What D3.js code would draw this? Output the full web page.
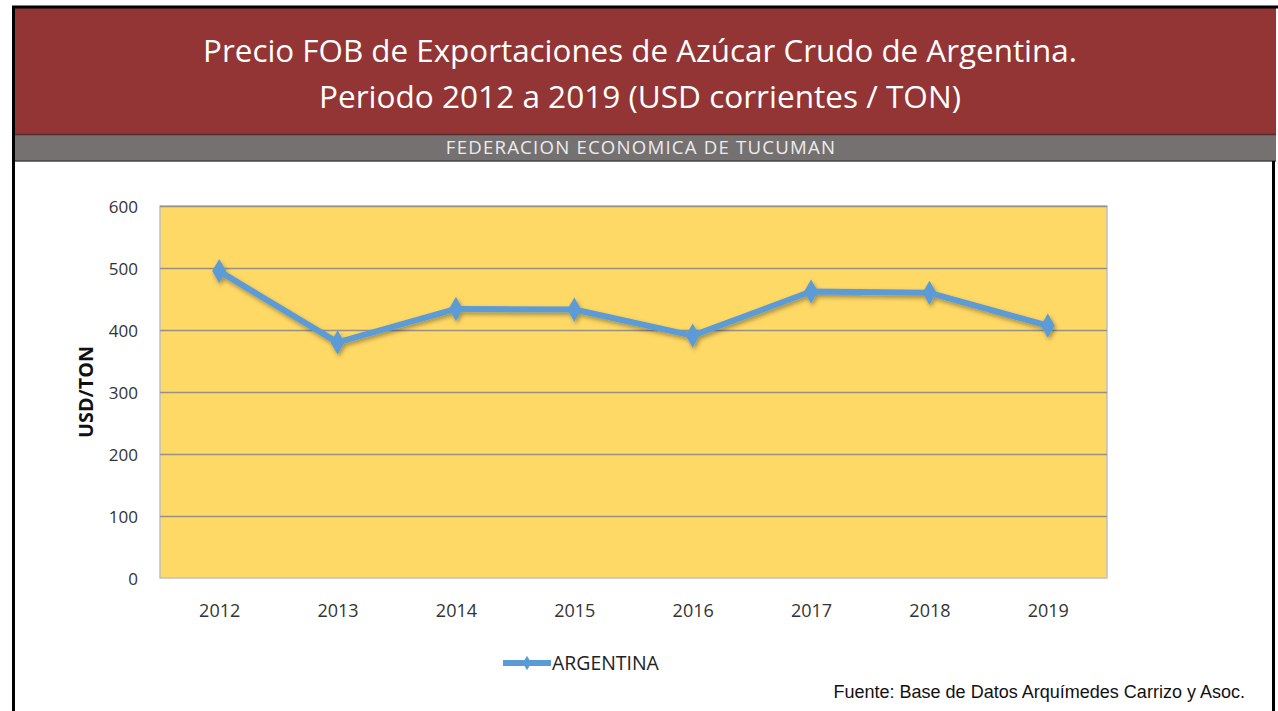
<!DOCTYPE html>
<html><head><meta charset="utf-8">
<script src="https://cdn.jsdelivr.net/npm/d3@7"></script>
<style>html,body{margin:0;padding:0;background:#fff;}svg{display:block;}</style>
</head><body>
<svg id="c" width="1278" height="711"></svg>
<script>
const years = ["2012","2013","2014","2015","2016","2017","2018","2019"];
const argentina = [495, 380, 434, 433, 391, 462, 460, 407];
const yTicks = [0, 100, 200, 300, 400, 500, 600];
const titleLines = ["Precio FOB de Exportaciones de Azúcar Crudo de Argentina.", "Periodo 2012 a 2019 (USD corrientes / TON)"];
const subtitle = "FEDERACION ECONOMICA DE TUCUMAN";
const yLabel = "USD/TON";
const seriesName = "ARGENTINA";
const source = "Fuente:  Base de Datos Arquímedes Carrizo y Asoc.";

const svg = d3.select("#c");
const W = 1278, H = 711;
const plot = {l:160, t:206, r:1107, b:578};

function fit(sel, target){
  const fs = +sel.attr("font-size");
  const w = sel.node().getComputedTextLength();
  if (w > 0) sel.attr("font-size", fs * target / w);
  return sel;
}

// header
svg.append("rect").attr("x",13).attr("y",8).attr("width",1263).attr("height",127).attr("fill","#933535");
svg.append("rect").attr("x",13).attr("y",135).attr("width",1263).attr("height",26).attr("fill","#767171");
svg.append("line").attr("x1",13).attr("x2",1276).attr("y1",134.5).attr("y2",134.5).attr("stroke","#5a2a2a").attr("stroke-width",1.5);
svg.append("line").attr("x1",13).attr("x2",1276).attr("y1",161).attr("y2",161).attr("stroke","#444").attr("stroke-width",1.5);
// borders
svg.append("line").attr("x1",13.5).attr("x2",13.5).attr("y1",6).attr("y2",H).attr("stroke","#000").attr("stroke-width",3);
svg.append("line").attr("x1",12).attr("x2",1278).attr("y1",7).attr("y2",7).attr("stroke","#000").attr("stroke-width",3);
svg.append("line").attr("x1",1273.5).attr("x2",1273.5).attr("y1",161).attr("y2",H).attr("stroke","#000").attr("stroke-width",3);

const titleW = [874, 642];
titleLines.forEach((t,i)=>{
  const s = svg.append("text").attr("x",640).attr("y",62 + i*46).attr("text-anchor","middle")
    .attr("font-family","'Open Sans', sans-serif").attr("font-size",30).attr("fill","#fff").text(t);
  fit(s, titleW[i]);
});
const sub = svg.append("text").attr("x",641).attr("y",154).attr("text-anchor","middle")
  .attr("font-family","'Open Sans', sans-serif").attr("font-size",16).attr("letter-spacing",1.2)
  .attr("fill","#ececec").text(subtitle);
fit(sub, 397);

const x = d3.scalePoint().domain(years).range([plot.l, plot.r]).padding(0.5);
const y = d3.scaleLinear().domain([0,600]).range([plot.b, plot.t]);

// plot area
svg.append("rect").attr("x",plot.l).attr("y",plot.t).attr("width",plot.r-plot.l).attr("height",plot.b-plot.t)
  .attr("fill","#FFD966").attr("stroke","#c0c0c0").attr("stroke-width",1.5);

// gridlines
const grid = svg.append("g").attr("transform",`translate(${plot.l},0)`)
  .call(d3.axisLeft(y).tickValues(yTicks.filter(v=>v>0)).tickSize(-(plot.r-plot.l)).tickFormat(""));
grid.select(".domain").remove();
grid.selectAll(".tick line").attr("stroke","#979085").attr("stroke-width",1.6);

// y axis labels
const ya = svg.append("g").attr("transform",`translate(${plot.l-22},0)`)
  .call(d3.axisLeft(y).tickValues(yTicks).tickSize(0).tickPadding(0));
ya.select(".domain").remove();
ya.selectAll("text").attr("font-family","'Open Sans', sans-serif").attr("font-size",17).attr("fill","#333").attr("dy","0.36em");

// x axis labels
const xa = svg.append("g").attr("transform",`translate(0,${plot.b+26})`)
  .call(d3.axisBottom(x).tickSize(0).tickPadding(0));
xa.select(".domain").remove();
xa.selectAll("text").attr("font-family","'Open Sans', sans-serif").attr("font-size",18).attr("fill","#333").attr("dy","0.71em");

const yl = svg.append("text").attr("transform",`translate(93,${(plot.t+plot.b)/2}) rotate(-90)`).attr("text-anchor","middle")
  .attr("font-family","'Open Sans', sans-serif").attr("font-weight","bold").attr("font-size",18).attr("fill","#111").text(yLabel);
fit(yl, 92);

// shadow filter
const defs = svg.append("defs");
const f = defs.append("filter").attr("id","sh").attr("x","-20%").attr("y","-50%").attr("width","140%").attr("height","200%");
f.append("feDropShadow").attr("dx",1.5).attr("dy",2.5).attr("stdDeviation",2).attr("flood-color","#000").attr("flood-opacity",0.35);

const data = years.map((yr,i)=>({yr, v:argentina[i]}));
const g = svg.append("g").attr("filter","url(#sh)");
g.append("path").datum(data)
  .attr("d", d3.line().x(d=>x(d.yr)).y(d=>y(d.v)))
  .attr("fill","none").attr("stroke","#5B9BD5").attr("stroke-width",6).attr("stroke-linejoin","round");
g.selectAll("path.m").data(data).join("path").attr("class","m")
  .attr("d", d3.symbol(d3.symbolDiamond, 170)())
  .attr("transform", d=>`translate(${x(d.yr)},${y(d.v)})`)
  .attr("fill","#5B9BD5");

// legend
const lg = svg.append("g");
lg.append("line").attr("x1",503).attr("x2",551).attr("y1",663).attr("y2",663).attr("stroke","#5B9BD5").attr("stroke-width",6);
lg.append("path").attr("d", d3.symbol(d3.symbolDiamond, 60)()).attr("transform","translate(527,663)").attr("fill","#5B9BD5");
const lt = lg.append("text").attr("x",552).attr("y",670).attr("font-family","'Liberation Sans Narrow', 'Open Sans', sans-serif")
  .attr("font-size",19).attr("fill","#222").text(seriesName);
fit(lt, 107);

const src = svg.append("text").attr("x",1245).attr("y",698).attr("text-anchor","end")
  .attr("font-family","'Liberation Sans Narrow', sans-serif").attr("font-size",17).attr("fill","#111").text(source);
fit(src, 412);
</script>
</body></html>
